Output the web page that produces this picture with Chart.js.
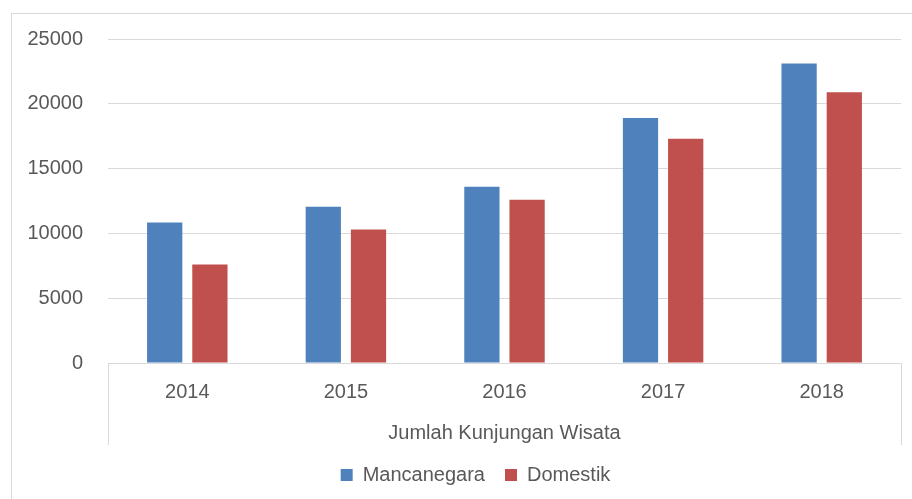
<!DOCTYPE html>
<html lang="id">
<head>
<meta charset="UTF-8">
<title>Jumlah Kunjungan Wisata</title>
<script src="https://cdn.jsdelivr.net/npm/chart.js"></script>
<style>
  html, body { margin: 0; padding: 0; background: #fff; }
  #wrap { width: 912px; height: 499px; position: relative; }
</style>
</head>
<body>
<div id="wrap"><canvas id="kunjunganChart"></canvas></div>
<script>
// data
const tahun = ['2014', '2015', '2016', '2017', '2018'];
const mancanegara = [10850, 12050, 13600, 18900, 23100];
const domestik = [7600, 10300, 12600, 17300, 20900];
const judulSumbuX = 'Jumlah Kunjungan Wisata';

const textColor = '#595959';
const fontFamily = '"Liberation Sans", Arial, sans-serif';

// frame round the chart + the vertical separators of the category axis
const frameLines = {
  id: 'frameLines',
  afterLayout(chart) {
    // legend sits a little right of the canvas centre in the original
    chart.legend.left += 25;
    chart.legend.right += 25;
  },
  afterDraw(chart) {
    const ctx = chart.ctx;
    const area = chart.chartArea;
    ctx.save();
    ctx.strokeStyle = '#d9d9d9';
    ctx.lineWidth = 1;
    ctx.strokeRect(11.5, 13.5, 1000, 1000);
    ctx.beginPath();
    ctx.moveTo(Math.round(area.left) + 0.5, area.bottom);
    ctx.lineTo(Math.round(area.left) + 0.5, area.bottom + 82);
    ctx.moveTo(Math.round(area.right) + 0.5, area.bottom);
    ctx.lineTo(Math.round(area.right) + 0.5, area.bottom + 82);
    ctx.stroke();
    ctx.restore();
  }
};

new Chart(document.getElementById('kunjunganChart'), {
  type: 'bar',
  data: {
    labels: tahun,
    datasets: [
      { label: 'Mancanegara', data: mancanegara, backgroundColor: '#4f81bd', borderColor: '#4f81bd', borderWidth: 0 },
      { label: 'Domestik', data: domestik, backgroundColor: '#c0504d', borderColor: '#c0504d', borderWidth: 0 }
    ]
  },
  options: {
    responsive: true,
    maintainAspectRatio: false,
    animation: false,
    datasets: { bar: { categoryPercentage: 0.57, barPercentage: 0.78 } },
    layout: { padding: { top: 39, right: 11, bottom: 4, left: 0 } },
    scales: {
      x: {
        grid: { display: false, drawTicks: false },
        border: { display: true, color: '#d9d9d9', width: 1 },
        ticks: { color: textColor, font: { family: fontFamily, size: 20 }, padding: 17 },
        title: {
          display: true, text: judulSumbuX, color: textColor,
          font: { family: fontFamily, size: 20 }, padding: { top: 0, bottom: 0 }
        }
      },
      y: {
        min: 0, max: 25000,
        afterFit(scale) { scale.width = 108; },
        grid: { color: '#d9d9d9', drawTicks: false },
        border: { display: false },
        ticks: {
          stepSize: 5000, color: textColor, font: { family: fontFamily, size: 20 }, padding: 25,
          callback: v => String(v)
        }
      }
    },
    plugins: {
      legend: {
        position: 'bottom',
        labels: { color: textColor, font: { family: fontFamily, size: 20 }, boxWidth: 12, boxHeight: 12, padding: 20 }
      },
      tooltip: { enabled: false }
    }
  },
  plugins: [frameLines]
});
</script>
</body>
</html>
